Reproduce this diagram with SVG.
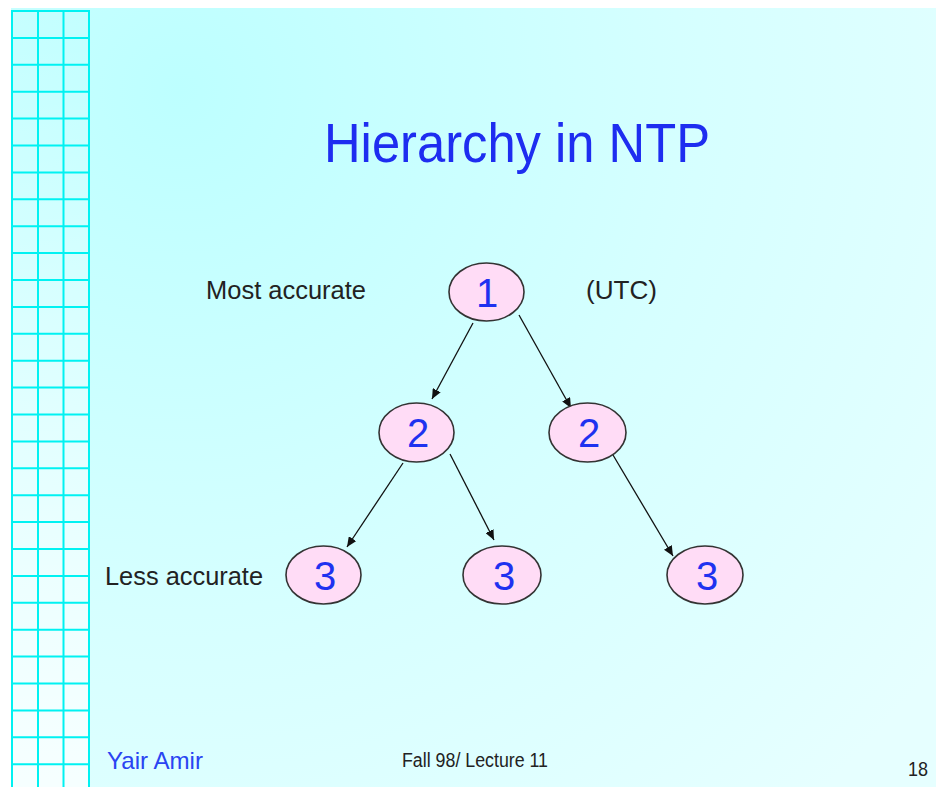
<svg xmlns="http://www.w3.org/2000/svg" width="936" height="787" viewBox="0 0 936 787">
  <style>
    .node ellipse { fill: #FFDCF6; stroke: #333333; stroke-width: 1.6; }
    .node text { font-family: "Liberation Sans", Arial, sans-serif; font-size: 40px; fill: #1E32F0; text-anchor: middle; }
    .lbl { font-family: "Liberation Sans", Arial, sans-serif; fill: #222222; }
    .edge { stroke: #111111; stroke-width: 1.3; fill: none; marker-end: url(#arrow); }
    .grid line { stroke: #00F2F2; stroke-width: 2; }
  </style>
  <defs>
    <radialGradient id="bg" gradientUnits="userSpaceOnUse" cx="180" cy="90" r="950">
      <stop offset="0" stop-color="#BDFFFF"/>
      <stop offset="0.55" stop-color="#D6FFFF"/>
      <stop offset="1" stop-color="#E6FFFF"/>
    </radialGradient>
    <linearGradient id="gridfade" x1="0" y1="0" x2="0" y2="1">
      <stop offset="0" stop-color="#FFFFFF" stop-opacity="0"/>
      <stop offset="1" stop-color="#FFFFFF" stop-opacity="0.75"/>
    </linearGradient>
    <marker id="arrow" markerUnits="userSpaceOnUse" markerWidth="11" markerHeight="9" refX="10" refY="4.5" orient="auto">
      <path d="M0,0 L10,4.5 L0,9 z" fill="#111111"/>
    </marker>
  </defs>

  <rect x="0" y="0" width="936" height="787" fill="#FFFFFF"/>
  <rect x="11" y="8" width="925" height="779" fill="url(#bg)"/>
  <rect x="12" y="10" width="77" height="777" fill="url(#gridfade)"/>

  <g class="grid">
    <line x1="12" y1="10" x2="12" y2="787"/>
    <line x1="38" y1="10" x2="38" y2="787"/>
    <line x1="63.5" y1="10" x2="63.5" y2="787"/>
    <line x1="89" y1="10" x2="89" y2="787"/>
    <line x1="12" y1="11" x2="89" y2="11"/>
    <line x1="12" y1="37.9" x2="89" y2="37.9"/>
    <line x1="12" y1="64.8" x2="89" y2="64.8"/>
    <line x1="12" y1="91.7" x2="89" y2="91.7"/>
    <line x1="12" y1="118.6" x2="89" y2="118.6"/>
    <line x1="12" y1="145.5" x2="89" y2="145.5"/>
    <line x1="12" y1="172.4" x2="89" y2="172.4"/>
    <line x1="12" y1="199.3" x2="89" y2="199.3"/>
    <line x1="12" y1="226.2" x2="89" y2="226.2"/>
    <line x1="12" y1="253.1" x2="89" y2="253.1"/>
    <line x1="12" y1="280" x2="89" y2="280"/>
    <line x1="12" y1="306.9" x2="89" y2="306.9"/>
    <line x1="12" y1="333.8" x2="89" y2="333.8"/>
    <line x1="12" y1="360.7" x2="89" y2="360.7"/>
    <line x1="12" y1="387.6" x2="89" y2="387.6"/>
    <line x1="12" y1="414.5" x2="89" y2="414.5"/>
    <line x1="12" y1="441.4" x2="89" y2="441.4"/>
    <line x1="12" y1="468.3" x2="89" y2="468.3"/>
    <line x1="12" y1="495.2" x2="89" y2="495.2"/>
    <line x1="12" y1="522.1" x2="89" y2="522.1"/>
    <line x1="12" y1="549" x2="89" y2="549"/>
    <line x1="12" y1="575.9" x2="89" y2="575.9"/>
    <line x1="12" y1="602.8" x2="89" y2="602.8"/>
    <line x1="12" y1="629.7" x2="89" y2="629.7"/>
    <line x1="12" y1="656.6" x2="89" y2="656.6"/>
    <line x1="12" y1="683.5" x2="89" y2="683.5"/>
    <line x1="12" y1="710.4" x2="89" y2="710.4"/>
    <line x1="12" y1="737.3" x2="89" y2="737.3"/>
    <line x1="12" y1="764.2" x2="89" y2="764.2"/>
  </g>

  <text x="324" y="162" font-family="'Liberation Sans', Arial, sans-serif" font-size="55" fill="#1E2DF0" textLength="386" lengthAdjust="spacingAndGlyphs">Hierarchy in NTP</text>

  <text class="lbl" x="206" y="299" font-size="25" textLength="160" lengthAdjust="spacingAndGlyphs">Most accurate</text>
  <text class="lbl" x="586" y="299" font-size="25" textLength="71" lengthAdjust="spacingAndGlyphs">(UTC)</text>
  <text class="lbl" x="105" y="585" font-size="25" textLength="158" lengthAdjust="spacingAndGlyphs">Less accurate</text>

  <g id="connectors">
    <line class="edge" x1="473" y1="323" x2="432" y2="399"/>
    <line class="edge" x1="519" y1="315" x2="571" y2="408"/>
    <line class="edge" x1="403" y1="463" x2="347" y2="547"/>
    <line class="edge" x1="450" y1="454" x2="494" y2="540"/>
    <line class="edge" x1="613" y1="455" x2="673" y2="556"/>
  </g>

  <g id="node1" class="node">
    <ellipse cx="486.5" cy="292" rx="37.5" ry="29"/>
    <text x="487" y="307">1</text>
  </g>
  <g id="node2a" class="node">
    <ellipse cx="416.5" cy="432.5" rx="37.5" ry="29.5"/>
    <text x="418" y="447">2</text>
  </g>
  <g id="node2b" class="node">
    <ellipse cx="587.5" cy="432.5" rx="38.5" ry="29.5"/>
    <text x="589" y="447">2</text>
  </g>
  <g id="node3a" class="node">
    <ellipse cx="323.5" cy="575" rx="37.5" ry="29"/>
    <text x="325" y="589.5">3</text>
  </g>
  <g id="node3b" class="node">
    <ellipse cx="502" cy="575" rx="39" ry="29"/>
    <text x="504" y="589.5">3</text>
  </g>
  <g id="node3c" class="node">
    <ellipse cx="705" cy="575" rx="38" ry="29"/>
    <text x="707" y="589.5">3</text>
  </g>

  <text x="107" y="769" font-family="'Liberation Sans', Arial, sans-serif" font-size="24" fill="#2A44F2" textLength="96" lengthAdjust="spacingAndGlyphs">Yair Amir</text>
  <text class="lbl" x="402" y="767" font-size="20" textLength="146" lengthAdjust="spacingAndGlyphs">Fall 98/ Lecture 11</text>
  <text class="lbl" x="908" y="776" font-size="21" textLength="20" lengthAdjust="spacingAndGlyphs">18</text>
</svg>
